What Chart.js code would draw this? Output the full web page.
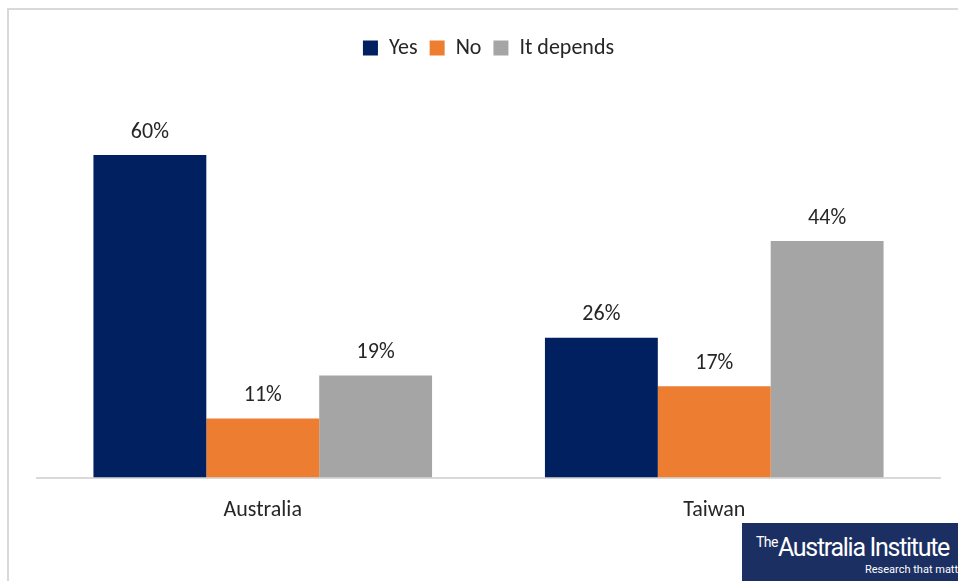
<!DOCTYPE html>
<html>
<head>
<meta charset="utf-8">
<script src="https://cdn.jsdelivr.net/npm/chart.js@4"></script>
<style>
  html, body { margin: 0; padding: 0; background: #fff; }
  #wrap { position: relative; width: 958px; height: 581px; overflow: hidden; }
  #frame { position: absolute; left: 7px; top: 8px; width: 980px; height: 600px; border: 2px solid #d9d9d9; box-sizing: border-box; }
  canvas { position: absolute; left: 0; top: 0; }
  #logo { position: absolute; left: 742px; top: 523px; width: 230px; height: 58px; background: #1c2f63; color: #fff; font-family: "Liberation Sans Narrow", "Roboto", sans-serif; }
  #logo .name { position: absolute; left: 14px; top: 10px; font-size: 25px; letter-spacing: -1.3px; white-space: nowrap; }
  #logo .name small { font-size: 14px; vertical-align: 9px; letter-spacing: -0.5px; }
  #logo .tag { position: absolute; left: 123px; top: 40px; font-size: 11px; white-space: nowrap; }
</style>
</head>
<body>
<div id="wrap">
  <div id="frame"></div>
  <canvas id="chart" width="958" height="581"></canvas>
  <div id="logo"><div class="name"><small>The</small>Australia Institute</div><div class="tag">Research that matters</div></div>
</div>
<script>
// === Data ===
const categories = ["Australia", "Taiwan"];
const seriesNames = ["Yes", "No", "It depends"];
const yesValues = [60, 26];
const noValues = [11, 17];
const dependsValues = [19, 44];
const colors = ["#002060", "#ED7D31", "#A5A5A5"];

const fontFamily = "Carlito, Calibri, Lato, 'Open Sans', sans-serif";
const fontSize = 22;
const textColor = "#262626";

// === Value labels above bars ===
const valueLabels = {
  id: "valueLabels",
  afterDatasetsDraw(chart) {
    const ctx = chart.ctx;
    ctx.save();
    ctx.font = fontSize + "px " + fontFamily;
    ctx.fillStyle = textColor;
    ctx.textAlign = "center";
    ctx.textBaseline = "bottom";
    chart.data.datasets.forEach((ds, i) => {
      chart.getDatasetMeta(i).data.forEach((bar, j) => {
        ctx.fillText(ds.data[j] + "%", bar.x, bar.y - 12);
      });
    });
    ctx.restore();
  }
};

const ctx = document.getElementById("chart").getContext("2d");
new Chart(ctx, {
  type: "bar",
  data: {
    labels: categories,
    datasets: [
      { label: seriesNames[0], data: yesValues, backgroundColor: colors[0] },
      { label: seriesNames[1], data: noValues, backgroundColor: colors[1] },
      { label: seriesNames[2], data: dependsValues, backgroundColor: colors[2] }
    ]
  },
  options: {
    responsive: false,
    animation: false,
    layout: { padding: { top: 25, left: 37, right: 18, bottom: 45 } },
    datasets: { bar: { barPercentage: 1, categoryPercentage: 0.75 } },
    plugins: {
      legend: {
        position: "top",
        labels: {
          color: textColor,
          font: { size: fontSize, family: fontFamily },
          boxWidth: 15,
          boxHeight: 15,
          padding: 12
        }
      },
      tooltip: { enabled: false }
    },
    scales: {
      x: {
        grid: { display: false },
        border: { display: true, color: "#d9d9d9", width: 2 },
        ticks: { color: textColor, font: { size: fontSize, family: fontFamily }, padding: 12 }
      },
      y: {
        display: false,
        min: 0,
        max: 76
      }
    }
  },
  plugins: [valueLabels]
});
</script>
</body>
</html>
